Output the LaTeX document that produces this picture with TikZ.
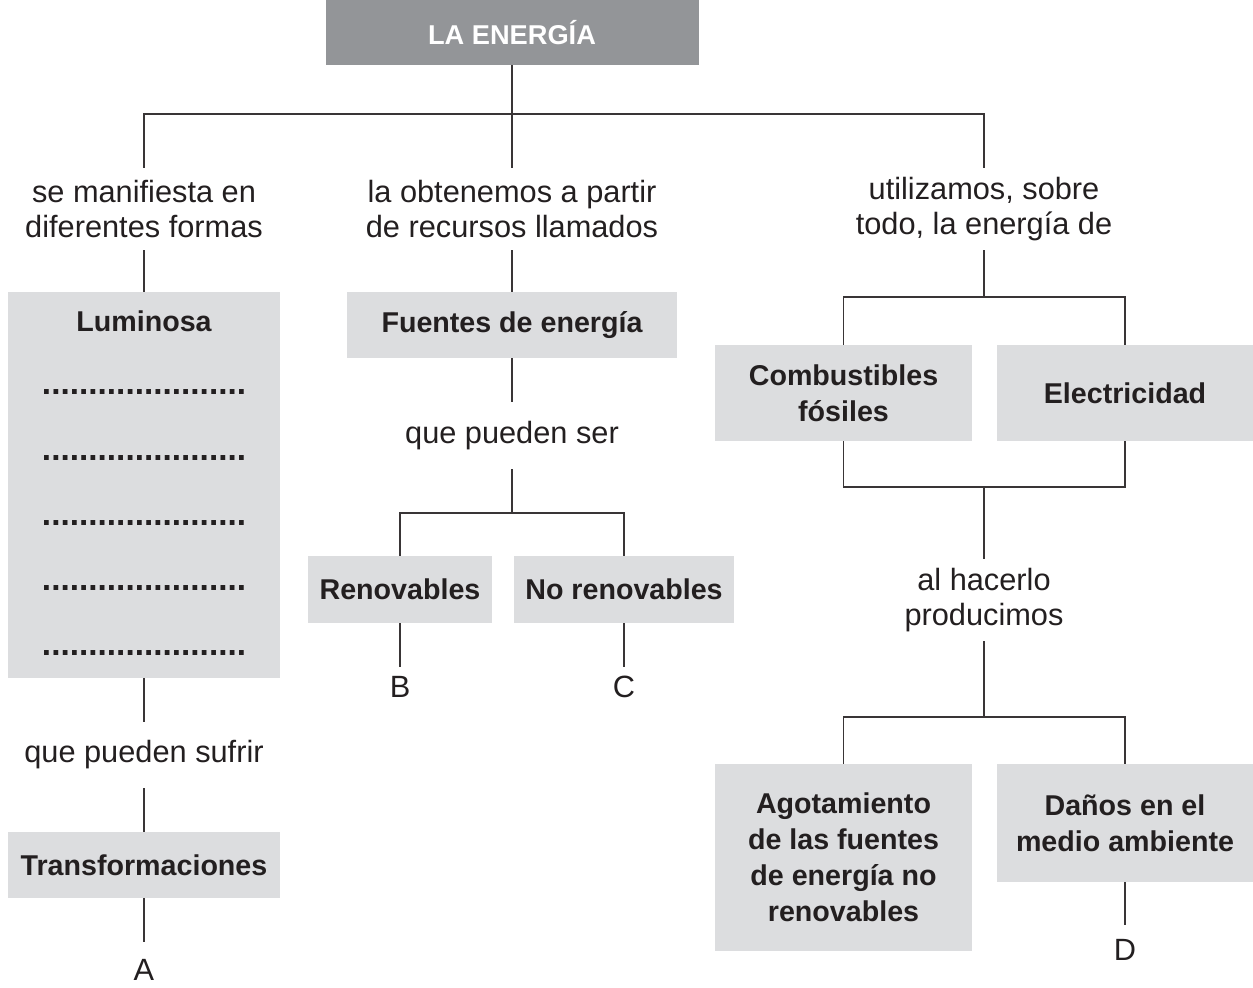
\documentclass[tikz,border=0pt]{standalone}
\usepackage{fontspec}
\setmainfont{Liberation Sans}
\usetikzlibrary{positioning, calc}
\definecolor{headgray}{HTML}{939598}
\definecolor{boxgray}{HTML}{DCDDDF}
\definecolor{inkgray}{HTML}{231F20}
\newcommand{\dotrow}{......................}

\begin{document}
\begin{tikzpicture}[
  x=0.02cm, y=-0.02cm,
  sz/.style 2 args={minimum width=#1*0.02cm, minimum height=#2*0.02cm},
  head/.style={fill=headgray, text=white, inner sep=0pt, align=center,
               font=\bfseries\fontsize{15.5}{20.4}\selectfont},
  box/.style={fill=boxgray, text=inkgray, inner sep=0pt, align=center,
              font=\bfseries\fontsize{16.3}{20.4}\selectfont},
  txt/.style={text=inkgray, inner sep=0pt, align=center,
              font=\fontsize{17.5}{20.4}\selectfont},
  dotsrow/.style={text=inkgray, inner sep=0pt,
                  font=\bfseries\fontsize{19}{20}\selectfont},
  link/.style={draw=inkgray!90, line width=0.75pt},
]
\useasboundingbox (0,0) rectangle (1253,987);

% ===== TITLE =====
\node[head, sz={373}{65}] (top) at (512,32.5) {LA ENERG\'IA};

% ===== FIRST LEVEL TEXTS =====
\node[txt, minimum height=82*0.02cm] (t1) at (144,209) {se manifiesta en\\diferentes formas};
\node[txt, minimum height=82*0.02cm] (t2) at (512,209) {la obtenemos a partir\\de recursos llamados};
\node[txt, minimum height=82*0.02cm] (t3) at (984,209) {utilizamos, sobre\\todo, la energ\'ia de};
\coordinate (j1) at (512,114);

% ===== LEFT COLUMN =====
\node[box, sz={272}{386}] (lum) at (144,485) {};
\node[box, fill=none] (lumt) at (144,321) {Luminosa};
\foreach \y [count=\i] in {392,458,523,588,653}
  \node[dotsrow] (dr\i) at (144,\y) {\dotrow};
\node[txt, minimum height=66*0.02cm] (t4) at (144,755) {que pueden sufrir};
\node[box, sz={272}{66}] (trans) at (144,865) {Transformaciones};
\node[txt, minimum height=56*0.02cm] (la) at (144,970) {A};

% ===== MIDDLE COLUMN =====
\node[box, sz={330}{66}] (fuen) at (512,325) {Fuentes de energ\'ia};
\node[txt, minimum height=67*0.02cm] (t5) at (512,435.5) {que pueden ser};
\coordinate (j2) at (512,513);
\node[box, sz={184}{67}] (renov) at (400,589.5) {Renovables};
\node[box, sz={220}{67}] (norenov) at (624,589.5) {No renovables};
\node[txt, minimum height=40*0.02cm] (lb) at (400,687) {B};
\node[txt, minimum height=40*0.02cm] (lc) at (624,687) {C};

% ===== RIGHT COLUMN =====
\coordinate (j3) at (984,297);
\node[box, sz={257}{96}] (comb) at (843.5,393) {Combustibles\\f\'osiles};
\node[box, sz={256}{96}] (elec) at (1125,393) {Electricidad};
\coordinate (j4) at (984,487);
\node[txt, minimum height=82*0.02cm] (t6) at (984,600) {al hacerlo\\producimos};
\coordinate (j5) at (984,717);
\node[box, sz={257}{187}] (agot) at (843.5,857.5)
  {Agotamiento\\de las fuentes\\de energ\'ia no\\renovables};
\node[box, sz={256}{118}] (danos) at (1125,823) {Da\~nos en el\\medio ambiente};
\node[txt, minimum height=50*0.02cm] (ld) at (1125,950) {D};

% ===== CONNECTORS =====
\draw[link] (top.south) -- (t2.north);
\draw[link] (t1.north) |- (j1) -| (t3.north);

\draw[link] (t1) -- (lum);
\draw[link] (lum) -- (t4);
\draw[link] (t4) -- (trans);
\draw[link] (trans) -- (la);

\draw[link] (t2) -- (fuen);
\draw[link] (fuen) -- (t5);
\draw[link] (t5.south) -- (j2);
\draw[link] (renov.north) |- (j2) -| (norenov.north);
\draw[link] (renov) -- (lb);
\draw[link] (norenov) -- (lc);

\draw[link] (t3.south) -- (j3);
\draw[link] (comb.north) |- (j3) -| (elec.north);
\draw[link] (comb.south) |- (j4) -| (elec.south);
\draw[link] (j4) -- (t6.north);
\draw[link] (t6.south) -- (j5);
\draw[link] (agot.north) |- (j5) -| (danos.north);
\draw[link] (danos) -- (ld);

\end{tikzpicture}
\end{document}
